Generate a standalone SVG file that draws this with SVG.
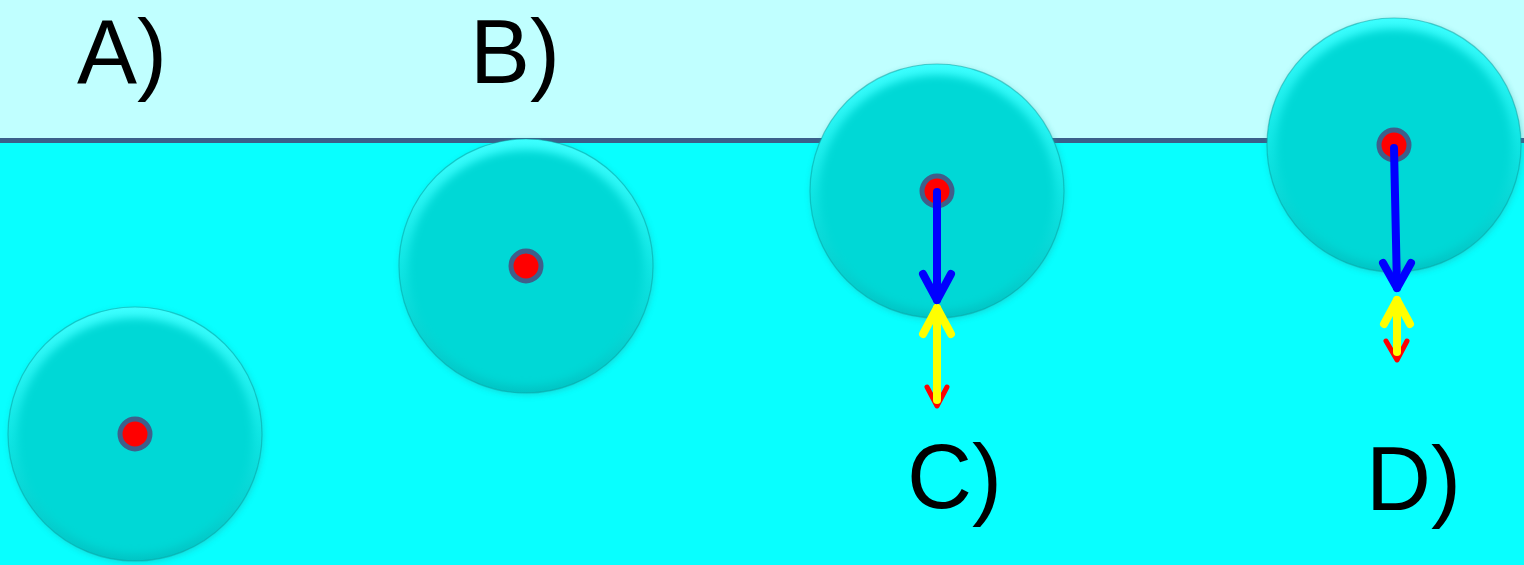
<svg xmlns="http://www.w3.org/2000/svg" width="1524" height="565" viewBox="0 0 1524 565">
<style>
.lbl{font-family:"Liberation Sans",Arial,sans-serif;font-size:90px;fill:#000}
.dot{fill:#ff0000;stroke:#3f5f8a;stroke-width:5}
.blue{stroke:#0000ff;fill:none;stroke-linecap:round;stroke-linejoin:round}
.yel{stroke:#ffff00;fill:none;stroke-linecap:round;stroke-linejoin:round}
.red{stroke:#ff0000;fill:none;stroke-linecap:round;stroke-linejoin:round}
.edge{fill:none;stroke:#0a9c9c;stroke-opacity:0.5;stroke-width:1.2}
</style>
<defs>
<linearGradient id="rim" x1="0" y1="0" x2="0" y2="1">
<stop offset="0" stop-color="#3cffff"/>
<stop offset="0.5" stop-color="#10e6e4"/>
<stop offset="1" stop-color="#00c4c4"/>
</linearGradient>
<filter id="soft" x="-10%" y="-10%" width="120%" height="120%">
<feGaussianBlur stdDeviation="4"/>
</filter>
<filter id="shadow" x="-20%" y="-20%" width="140%" height="140%">
<feGaussianBlur stdDeviation="3"/>
</filter>
<clipPath id="cA"><circle cx="135" cy="434" r="127"/></clipPath>
<clipPath id="cB"><circle cx="526" cy="266" r="127"/></clipPath>
<clipPath id="cC"><circle cx="937" cy="191" r="127"/></clipPath>
<clipPath id="cD"><circle cx="1394" cy="145" r="127"/></clipPath>
</defs>
<rect x="0" y="0" width="1524" height="140" fill="#c0ffff"/>
<rect x="0" y="140" width="1524" height="425" fill="#08ffff"/>
<rect x="0" y="138" width="1524" height="5" fill="#3a5f8a"/>

<g id="ballA">
<circle cx="136" cy="436" r="127" fill="#20a8a8" opacity="0.45" filter="url(#shadow)"/>
<circle cx="135" cy="434" r="127" fill="url(#rim)"/>
<g clip-path="url(#cA)"><circle cx="135" cy="436" r="118" fill="#06d8d6" filter="url(#soft)"/></g>
<circle class="edge" cx="135" cy="434" r="127"/>
<circle class="dot" cx="135" cy="434" r="15"/>
</g>
<g id="ballB">
<circle cx="527" cy="268" r="127" fill="#20a8a8" opacity="0.45" filter="url(#shadow)"/>
<circle cx="526" cy="266" r="127" fill="url(#rim)"/>
<g clip-path="url(#cB)"><circle cx="526" cy="268" r="118" fill="#06d8d6" filter="url(#soft)"/></g>
<circle class="edge" cx="526" cy="266" r="127"/>
<circle class="dot" cx="526" cy="266" r="15"/>
</g>
<g id="ballC">
<circle cx="938" cy="193" r="127" fill="#20a8a8" opacity="0.45" filter="url(#shadow)"/>
<circle cx="937" cy="191" r="127" fill="url(#rim)"/>
<g clip-path="url(#cC)"><circle cx="937" cy="193" r="118" fill="#06d8d6" filter="url(#soft)"/></g>
<circle class="edge" cx="937" cy="191" r="127"/>
<circle class="dot" cx="937" cy="191" r="15"/>
</g>
<g id="ballD">
<circle cx="1395" cy="147" r="127" fill="#20a8a8" opacity="0.45" filter="url(#shadow)"/>
<circle cx="1394" cy="145" r="127" fill="url(#rim)"/>
<g clip-path="url(#cD)"><circle cx="1394" cy="147" r="118" fill="#06d8d6" filter="url(#soft)"/></g>
<circle class="edge" cx="1394" cy="145" r="127"/>
<circle class="dot" cx="1394" cy="145" r="15"/>
</g>

<g id="connectors">
<path class="red" stroke-width="5" d="M927 387 L937 406 L947 387"/>
<path class="yel" stroke-width="8" d="M937 308 V400" stroke-linecap="butt"/>
<path class="yel" stroke-width="8" d="M923 334 L937 308 L951 334"/>
<path class="blue" stroke-width="8" d="M937 192 V300" stroke-linecap="butt"/>
<path class="blue" stroke-width="8" d="M923 274 L937 300 L951 274"/>
<path class="red" stroke-width="5" d="M1386 341 L1397 360 L1407 341"/>
<path class="yel" stroke-width="8" d="M1397 300 V352" stroke-linecap="butt"/>
<path class="yel" stroke-width="8" d="M1384 324 L1397 300 L1410 324"/>
<path class="blue" stroke-width="8" d="M1394 148 L1397 288" stroke-linecap="butt"/>
<path class="blue" stroke-width="8" d="M1383 263 L1397 288 L1411 263"/>
</g>

<g id="labels">
<text class="lbl" x="77" y="83">A)</text>
<text class="lbl" x="470" y="83">B)</text>
<text class="lbl" x="907" y="508">C)</text>
<text class="lbl" x="1366" y="510">D)</text>
</g>
</svg>
